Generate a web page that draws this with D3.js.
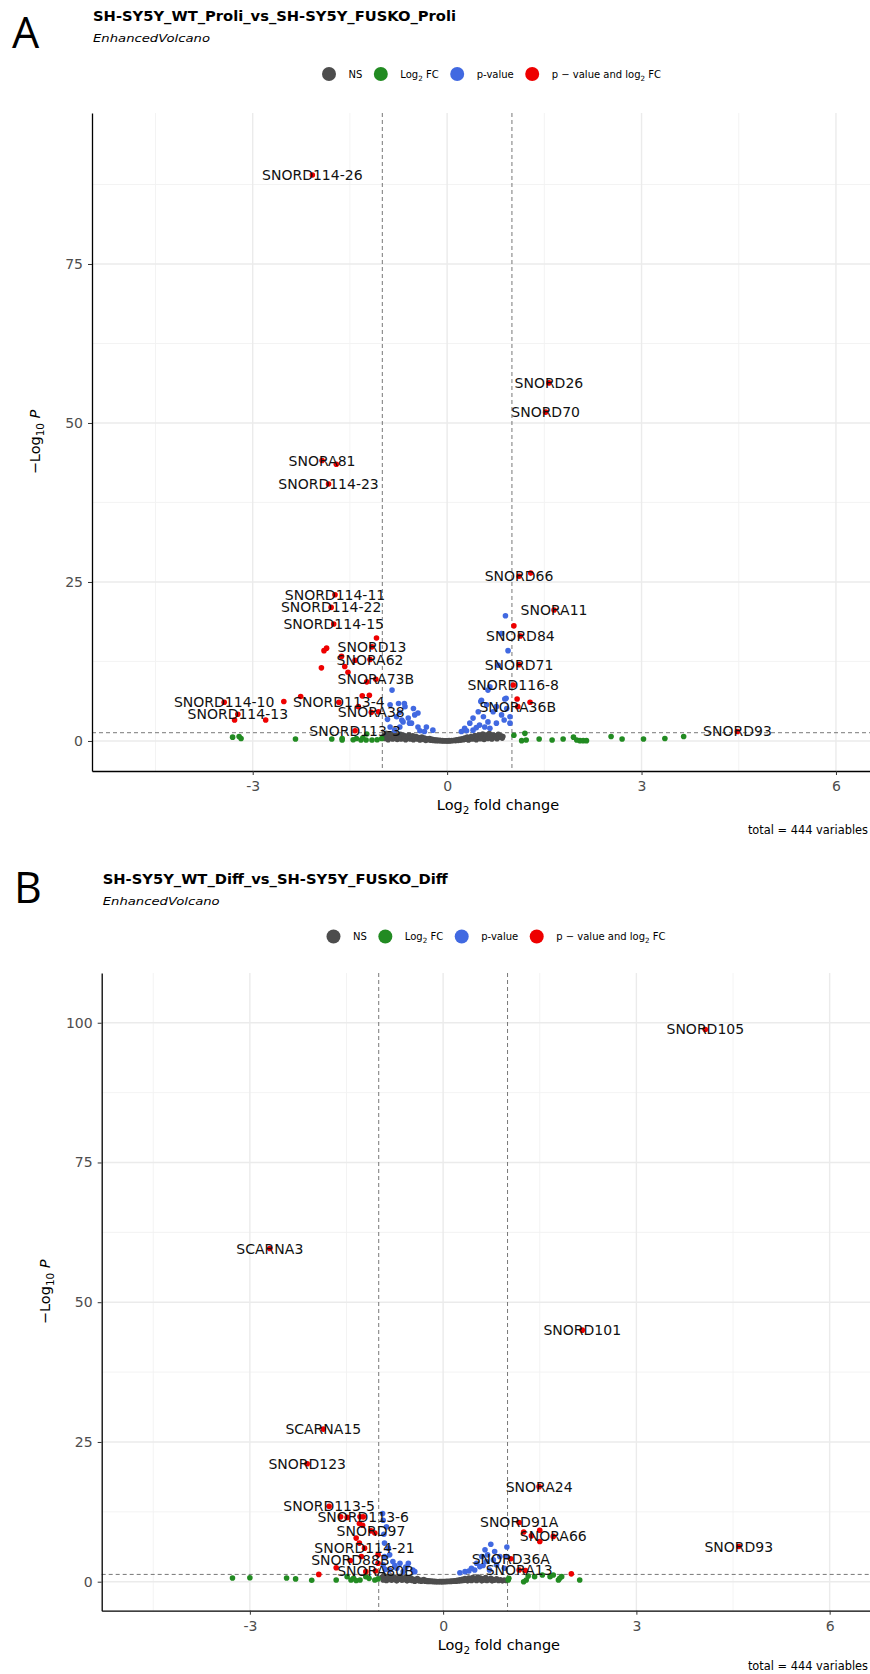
<!DOCTYPE html>
<html>
<head>
<meta charset="utf-8">
<script src="https://cdn.jsdelivr.net/npm/d3@7"></script>
<style>
  body { margin: 0; background: #fff; }
  text { font-family: "DejaVu Sans", sans-serif; }
</style>
</head>
<body>
<svg id="chart" width="870" height="1674"></svg>
<script>
// ---------- shared axis / legend values ----------
const xTicks = [-3, 0, 3, 6];
const xMinor = [-4.5, -1.5, 1.5, 4.5];
const yTicksA = [0, 25, 50, 75];
const yTicksB = [0, 25, 50, 75, 100];
const yMinor = [12.5, 37.5, 62.5, 87.5];
const fcCutoff = 1;
const pCutoff = 0.05;
const legendLabels = ["NS", "Log_2 FC", "p-value", "p \u2212 value and log_2 FC"];
const totalVariables = 444;

// ---------- panel A : Proli ----------
const titleA = "SH-SY5Y_WT_Proli_vs_SH-SY5Y_FUSKO_Proli";
const xLimA = [-5.48, 7.05];
const yLimA = [-4.72, 98.74];
// [log2FC, -log10 p, label]
const sigA = [
  [-2.08, 89.0, "SNORD114-26"], [-1.93, 44.1, "SNORA81"], [-1.71, 43.5, ""], [-1.83, 40.4, "SNORD114-23"],
  [1.57, 56.3, "SNORD26"], [1.52, 51.7, "SNORD70"], [1.11, 25.9, "SNORD66"], [1.29, 26.4, ""],
  [1.65, 20.6, "SNORA11"], [1.03, 18.1, ""], [1.13, 16.5, "SNORD84"], [1.11, 12.0, "SNORD71"],
  [1.02, 8.8, "SNORD116-8"], [1.08, 6.6, ""], [1.28, 6.1, ""], [1.09, 5.4, "SNORA36B"], [4.48, 1.5, "SNORD93"],
  [-1.73, 23.0, "SNORD114-11"], [-1.79, 21.0, "SNORD114-22"], [-1.75, 18.4, "SNORD114-15"], [-1.09, 16.2, ""],
  [-1.86, 14.6, ""], [-1.90, 14.2, ""], [-1.16, 14.8, "SNORD13"], [-1.63, 13.3, ""], [-1.19, 12.8, "SNORA62"],
  [-1.42, 12.7, ""], [-1.94, 11.5, ""], [-1.58, 11.7, ""], [-1.53, 10.8, ""], [-1.10, 9.7, "SNORA73B"],
  [-1.24, 9.3, ""], [-1.31, 7.1, ""], [-1.20, 7.2, ""], [-2.26, 7.0, ""], [-2.52, 6.2, ""],
  [-3.44, 6.1, "SNORD114-10"], [-1.67, 6.1, "SNORD113-4"], [-1.37, 5.4, ""], [-1.17, 4.5, "SNORA38"],
  [-1.06, 4.6, ""], [-3.23, 4.2, "SNORD114-13"], [-3.28, 3.3, ""], [-2.80, 3.3, ""], [-1.42, 1.6, "SNORD113-3"]
];
const pOnlyA = [
  [-0.85, 8.0], [-0.88, 5.7], [-0.75, 5.9], [-0.65, 5.4], [-0.52, 5.1], [-0.50, 4.1], [-0.78, 3.8], [-0.68, 3.0],
  [-0.58, 2.8], [-0.45, 2.2], [-0.32, 2.2], [-0.88, 2.2], [-0.81, 1.7], [-0.22, 1.7], [-0.73, 2.2], [-0.60, 3.6],
  [-0.66, 5.9], [-0.45, 4.4], [-0.73, 4.5], [-0.70, 3.3], [-0.55, 2.8], [-0.42, 1.6], [-0.92, 3.4], [-0.35, 1.5],
  [0.90, 19.7], [0.84, 16.9], [0.94, 14.2], [0.79, 11.9], [0.66, 8.5], [0.91, 6.7], [0.53, 6.4], [0.61, 5.7],
  [0.76, 5.4], [0.92, 5.1], [0.48, 4.6], [0.71, 4.6], [0.84, 4.1], [0.97, 3.8], [0.56, 3.8], [0.40, 3.6],
  [0.63, 3.0], [0.76, 2.8], [0.35, 2.8], [0.50, 2.5], [0.27, 2.0], [0.97, 2.8], [0.66, 2.0], [0.40, 1.7],
  [0.22, 1.5], [0.88, 3.3], [0.58, 2.2], [0.45, 2.1], [0.30, 1.6], [0.63, 8.0], [0.52, 6.2], [0.89, 6.6]
];
const fcOnlyA = [
  [-3.31, 0.6], [-3.21, 0.7], [-3.18, 0.4], [-2.34, 0.3], [-1.78, 0.3], [-1.62, 0.15], [-1.62, 0.4], [-1.40, 0.4],
  [-1.33, 0.15], [-1.25, 0.15], [-1.24, 1.1], [-1.16, 0.15], [-1.01, 0.4], [-1.30, 0.5], [-1.08, 0.2], [-1.45, 0.2],
  [1.20, 1.2], [1.15, 0.05], [1.22, 0.15], [1.42, 0.3], [1.62, 0.15], [1.79, 0.3], [1.95, 0.6], [2.00, 0.15],
  [2.05, 0.05], [2.10, 0.05], [2.15, 0.05], [2.53, 0.7], [2.70, 0.3], [3.03, 0.3], [3.36, 0.4], [3.65, 0.7], [1.03, 0.9]
];
const nsA = [
  [-0.97, 0.9], [-0.96, 0.4], [-0.94, 1.2], [-0.93, 0.6], [-0.91, 0.2], [-0.90, 1.0], [-0.88, 0.5], [-0.87, 0.8],
  [-0.85, 1.1], [-0.84, 0.3], [-0.82, 0.7], [-0.80, 0.45], [-0.79, 1.0], [-0.77, 0.25], [-0.76, 0.8], [-0.74, 0.55],
  [-0.72, 1.05], [-0.71, 0.3], [-0.69, 0.7], [-0.67, 0.9], [-0.66, 0.4], [-0.64, 0.2], [-0.62, 0.75], [-0.60, 0.5],
  [-0.59, 0.95], [-0.57, 0.3], [-0.55, 0.6], [-0.53, 0.8], [-0.52, 0.2], [-0.50, 0.45], [-0.48, 0.7], [-0.46, 0.3],
  [-0.44, 0.55], [-0.42, 0.15], [-0.41, 0.4], [-0.39, 0.6], [-0.37, 0.25], [-0.35, 0.45], [-0.33, 0.1], [-0.31, 0.35],
  [-0.29, 0.2], [-0.27, 0.4], [-0.25, 0.12], [-0.23, 0.28], [-0.21, 0.08], [-0.19, 0.2], [-0.17, 0.05], [-0.15, 0.15],
  [-0.13, 0.03], [-0.11, 0.1], [-0.09, 0.02], [-0.07, 0.06], [-0.05, 0.01], [-0.03, 0.04], [-0.01, 0.02], [0.01, 0.01],
  [0.03, 0.05], [0.05, 0.02], [0.07, 0.08], [0.09, 0.04], [0.11, 0.12], [0.13, 0.06], [0.15, 0.18], [0.17, 0.1],
  [0.19, 0.25], [0.21, 0.14], [0.23, 0.35], [0.25, 0.2], [0.27, 0.45], [0.29, 0.28], [0.31, 0.6], [0.33, 0.15],
  [0.35, 0.4], [0.37, 0.7], [0.39, 0.3], [0.41, 0.55], [0.43, 0.85], [0.45, 0.2], [0.47, 0.5], [0.49, 0.95],
  [0.51, 0.35], [0.53, 0.7], [0.55, 1.1], [0.57, 0.25], [0.59, 0.6], [0.61, 0.9], [0.63, 0.4], [0.65, 1.15],
  [0.67, 0.7], [0.69, 0.3], [0.71, 0.95], [0.73, 0.55], [0.75, 0.8], [0.77, 0.35], [0.79, 1.05], [0.81, 0.6],
  [0.83, 0.8], [0.85, 0.45], [0.86, 0.7]
];

// ---------- panel B : Diff ----------
const titleB = "SH-SY5Y_WT_Diff_vs_SH-SY5Y_FUSKO_Diff";
const xLimB = [-5.30, 7.03];
const yLimB = [-5.19, 108.9];
const sigB = [
  [4.07, 98.8, "SNORD105"], [-2.69, 59.6, "SCARNA3"], [2.16, 45.0, "SNORD101"], [-1.86, 27.3, "SCARNA15"],
  [-2.11, 21.1, "SNORD123"], [-1.77, 13.5, "SNORD113-5"], [-1.24, 11.6, "SNORD113-6"], [-1.59, 11.6, ""],
  [-1.49, 11.5, ""], [-1.29, 11.6, ""], [-1.30, 10.4, ""], [-1.25, 10.1, ""], [-1.12, 9.1, "SNORD97"],
  [-1.06, 8.7, ""], [-1.35, 7.8, ""], [-1.30, 6.9, ""], [-1.22, 6.0, "SNORD114-21"], [-1.01, 4.8, ""],
  [-1.27, 4.5, ""], [-1.44, 3.8, "SNORD88B"], [-1.01, 3.3, ""], [-1.66, 2.5, ""], [-1.20, 1.8, ""],
  [-1.05, 1.9, "SNORA80B"], [-1.93, 1.3, ""],
  [1.49, 17.0, "SNORA24"], [1.18, 10.6, "SNORD91A"], [1.25, 8.9, ""], [1.50, 9.2, ""], [1.37, 8.2, ""],
  [1.71, 8.1, "SNORA66"], [1.50, 7.2, ""], [4.59, 6.3, "SNORD93"], [1.05, 4.1, "SNORD36A"],
  [1.18, 2.1, "SNORA13"], [1.28, 2.0, ""], [1.99, 1.4, ""]
];
const pOnlyB = [
  [-0.94, 12.2], [-0.93, 11.0], [-0.88, 9.8], [-0.92, 8.5], [-0.91, 6.9], [-0.85, 6.0], [-0.83, 4.8], [-0.91, 4.5],
  [-0.78, 3.6], [-0.67, 3.3], [-0.54, 3.3], [-0.93, 3.0], [-0.47, 2.1], [-0.72, 2.4], [-0.62, 1.8], [-0.83, 2.1],
  [-0.44, 1.8], [-0.58, 2.6], [-0.75, 2.9], [-0.90, 2.2],
  [0.74, 6.7], [0.99, 6.2], [0.65, 5.7], [0.80, 5.4], [0.60, 4.5], [0.69, 4.8], [0.88, 4.5], [0.98, 4.5],
  [0.52, 3.3], [0.67, 3.6], [0.44, 2.4], [0.57, 2.7], [0.83, 3.0], [0.34, 1.8], [0.26, 1.6], [0.72, 2.1],
  [0.49, 2.1], [0.62, 2.9], [0.40, 1.9], [0.78, 3.9], [0.95, 2.4]
];
const fcOnlyB = [
  [-3.27, 0.65], [-3.00, 0.7], [-2.43, 0.65], [-2.29, 0.5], [-2.04, 0.25], [-1.66, 0.3], [-1.49, 0.9], [-1.43, 0.3],
  [-1.39, 0.6], [-1.29, 0.3], [-1.15, 0.6], [-1.06, 0.3], [-1.01, 0.5], [-1.35, 0.2], [-1.20, 0.9],
  [1.01, 0.3], [1.25, 0.0], [1.29, 0.3], [1.32, 1.0], [1.42, 0.9], [1.54, 1.2], [1.66, 0.9], [1.71, 1.2],
  [1.79, 0.3], [1.81, 0.6], [1.84, 0.9], [2.12, 0.3], [1.02, 0.6]
];
const nsB = [
  [-0.95, 0.8], [-0.93, 0.3], [-0.92, 1.1], [-0.90, 0.55], [-0.88, 0.2], [-0.87, 0.9], [-0.85, 0.4], [-0.83, 0.7],
  [-0.81, 1.0], [-0.80, 0.25], [-0.78, 0.6], [-0.76, 0.85], [-0.74, 0.35], [-0.72, 0.15], [-0.70, 0.7], [-0.68, 0.45],
  [-0.66, 0.95], [-0.64, 0.25], [-0.62, 0.6], [-0.60, 0.4], [-0.58, 0.8], [-0.56, 0.15], [-0.54, 0.5], [-0.52, 0.3],
  [-0.50, 0.65], [-0.48, 0.2], [-0.46, 0.45], [-0.44, 0.1], [-0.42, 0.35], [-0.40, 0.55], [-0.38, 0.15], [-0.36, 0.3],
  [-0.34, 0.08], [-0.32, 0.25], [-0.30, 0.4], [-0.28, 0.1], [-0.26, 0.2], [-0.24, 0.05], [-0.22, 0.15], [-0.20, 0.03],
  [-0.18, 0.1], [-0.16, 0.02], [-0.14, 0.06], [-0.12, 0.01], [-0.10, 0.04], [-0.08, 0.0], [-0.06, 0.03], [-0.04, 0.01],
  [-0.02, 0.02], [0.00, 0.01], [0.02, 0.04], [0.04, 0.02], [0.06, 0.06], [0.08, 0.03], [0.10, 0.09], [0.12, 0.05],
  [0.14, 0.13], [0.16, 0.08], [0.18, 0.18], [0.20, 0.1], [0.22, 0.25], [0.24, 0.14], [0.26, 0.32], [0.28, 0.18],
  [0.30, 0.45], [0.32, 0.22], [0.34, 0.55], [0.36, 0.3], [0.38, 0.15], [0.40, 0.65], [0.42, 0.4], [0.44, 0.2],
  [0.46, 0.75], [0.48, 0.35], [0.50, 0.55], [0.52, 0.2], [0.54, 0.85], [0.56, 0.4], [0.58, 0.65], [0.60, 0.15],
  [0.62, 0.5], [0.64, 0.3], [0.66, 0.75], [0.68, 0.2], [0.70, 0.45], [0.72, 0.35], [0.74, 0.6], [0.76, 0.15],
  [0.78, 0.4], [0.80, 0.25], [0.83, 0.5], [0.86, 0.2], [0.89, 0.35], [0.92, 0.15], [0.95, 0.3], [0.98, 0.2]
];

// ---------- styles ----------
const colNS = "#4D4D4D", colFC = "#228B22", colP = "#4169E1", colSig = "#EE0000";
const legendColors = [colNS, colFC, colP, colSig];

const svg = d3.select("#chart");

// text with "_2" style subscripts
function richText(sel, str, size) {
  const parts = str.split(/_(\d+)/);
  let shifted = 0;
  parts.forEach((s, i) => {
    if (s === "") return;
    const sub = i % 2 === 1;
    const dy = sub ? size * 0.3 - shifted : -shifted;
    shifted = sub ? size * 0.3 : 0;
    sel.append("tspan").attr("dy", dy).attr("font-size", sub ? size * 0.72 : size).text(s);
  });
}

function drawVolcano(cfg) {
  const g = svg.append("g");
  const x = d3.scaleLinear().domain(cfg.xLim).range([cfg.left, cfg.right]);
  const y = d3.scaleLinear().domain(cfg.yLim).range([cfg.bottom, cfg.top]);

  // panel label + titles
  g.append("text").attr("x", cfg.letterX).attr("y", cfg.letterY)
    .style("font-family", "'Open Sans', sans-serif")
    .attr("font-size", 43).text(cfg.letter);
  g.append("text").attr("x", cfg.left + 1).attr("y", cfg.titleY)
    .attr("font-size", 14).attr("font-weight", "bold")
    .attr("textLength", cfg.titleW).attr("lengthAdjust", "spacingAndGlyphs").text(cfg.title);
  g.append("text").attr("x", cfg.left + 1).attr("y", cfg.titleY + 21)
    .attr("font-size", 11).attr("font-style", "italic")
    .attr("textLength", 117).attr("lengthAdjust", "spacingAndGlyphs").text("EnhancedVolcano");

  // legend
  let lx = cfg.legendX;
  legendLabels.forEach((lab, i) => {
    g.append("circle").attr("cx", lx).attr("cy", cfg.legendY).attr("r", 7).attr("fill", legendColors[i]);
    const t = g.append("text").attr("x", lx + 19.5).attr("y", cfg.legendY + 3.5).attr("font-size", 10);
    richText(t, lab, 10);
    lx = lx + 19.5 + t.node().getComputedTextLength() + 18.5;
  });

  // grid
  const grid = g.append("g");
  grid.selectAll(".gxm").data(xMinor).join("line")
    .attr("x1", v => x(v)).attr("x2", v => x(v)).attr("y1", cfg.top).attr("y2", cfg.bottom)
    .attr("stroke", "#F2F2F2").attr("stroke-width", 0.9);
  grid.selectAll(".gym").data(yMinor).join("line")
    .attr("x1", cfg.left).attr("x2", cfg.right).attr("y1", v => y(v)).attr("y2", v => y(v))
    .attr("stroke", "#F2F2F2").attr("stroke-width", 0.9);
  grid.selectAll(".gx").data(xTicks).join("line")
    .attr("x1", v => x(v)).attr("x2", v => x(v)).attr("y1", cfg.top).attr("y2", cfg.bottom)
    .attr("stroke", "#EBEBEB").attr("stroke-width", 1.4);
  grid.selectAll(".gy").data(cfg.yTicks).join("line")
    .attr("x1", cfg.left).attr("x2", cfg.right).attr("y1", v => y(v)).attr("y2", v => y(v))
    .attr("stroke", "#EBEBEB").attr("stroke-width", 1.4);

  // cut-off lines
  const pLine = -Math.log10(pCutoff);
  g.selectAll(".vcut").data([-fcCutoff, fcCutoff]).join("line")
    .attr("x1", v => x(v)).attr("x2", v => x(v)).attr("y1", cfg.top).attr("y2", cfg.bottom)
    .attr("stroke", "#555").attr("stroke-width", 0.8).attr("stroke-dasharray", "4,3");
  g.append("line").attr("x1", cfg.left).attr("x2", cfg.right).attr("y1", y(pLine)).attr("y2", y(pLine))
    .attr("stroke", "#555").attr("stroke-width", 0.8).attr("stroke-dasharray", "4,3");

  // points
  const layers = [[cfg.ns, colNS], [cfg.fc, colFC], [cfg.p, colP], [cfg.sig, colSig]];
  layers.forEach(([pts, col]) => {
    g.append("g").selectAll("circle").data(pts).join("circle")
      .attr("cx", d => x(d[0])).attr("cy", d => y(d[1])).attr("r", 2.8).attr("fill", col);
  });

  // labels
  g.append("g").selectAll("text").data(cfg.sig.filter(d => d[2])).join("text")
    .attr("x", d => x(d[0])).attr("y", d => y(d[1])).attr("dy", "0.36em")
    .attr("text-anchor", "middle").attr("font-size", 14).attr("fill", "#111").text(d => d[2]);

  // axes
  const ax = g.append("g").attr("transform", `translate(0,${cfg.bottom})`)
    .call(d3.axisBottom(x).tickValues(xTicks).tickFormat(d => String(d)).tickSize(4).tickSizeOuter(0).tickPadding(6));
  const ay = g.append("g").attr("transform", `translate(${cfg.left},0)`)
    .call(d3.axisLeft(y).tickValues(cfg.yTicks).tickFormat(d => String(d)).tickSize(4).tickSizeOuter(0).tickPadding(5));
  [ax, ay].forEach(a => {
    a.select(".domain").attr("stroke", "#000").attr("stroke-width", 1.3);
    a.selectAll(".tick line").attr("stroke", "#333").attr("stroke-width", 1);
    a.selectAll(".tick text").attr("fill", "#4D4D4D").attr("font-size", 14)
      .style("font-family", "'DejaVu Sans', sans-serif");
  });

  // axis titles
  const xt = g.append("text").attr("x", (cfg.left + cfg.right) / 2).attr("y", cfg.bottom + 39)
    .attr("text-anchor", "middle").attr("font-size", 14.5);
  richText(xt, "Log_2 fold change", 14.5);
  const cy = (cfg.top + cfg.bottom) / 2;
  const yt = g.append("text").attr("transform", `translate(${cfg.left - 52},${cy}) rotate(-90)`)
    .attr("text-anchor", "middle").attr("font-size", 14.5);
  yt.append("tspan").text("\u2212Log");
  yt.append("tspan").attr("dy", 4.4).attr("font-size", 10.4).text("10");
  yt.append("tspan").attr("dy", -4.4).text(" ");
  yt.append("tspan").attr("font-style", "italic").text("P");

  g.append("text").attr("x", 868).attr("y", cfg.captionY).attr("text-anchor", "end")
    .attr("font-size", 11.4).text(`total = ${totalVariables} variables`);
}

drawVolcano({
  letter: "A", letterX: 12, letterY: 48, title: titleA, titleW: 363, titleY: 21,
  legendX: 329, legendY: 74, captionY: 834,
  left: 92, right: 904, top: 113, bottom: 771,
  xLim: xLimA, yLim: yLimA, yTicks: yTicksA,
  sig: sigA, p: pOnlyA, fc: fcOnlyA, ns: nsA
});
drawVolcano({
  letter: "B", letterX: 14, letterY: 903, title: titleB, titleW: 345, titleY: 884,
  legendX: 333.5, legendY: 936.5, captionY: 1670,
  left: 101.7, right: 896, top: 973, bottom: 1610.7,
  xLim: xLimB, yLim: yLimB, yTicks: yTicksB,
  sig: sigB, p: pOnlyB, fc: fcOnlyB, ns: nsB
});
</script>
</body>
</html>
